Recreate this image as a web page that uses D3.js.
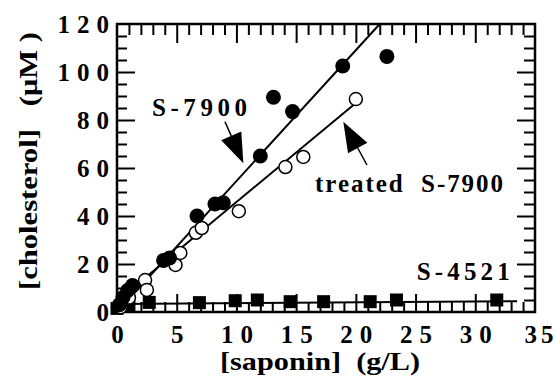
<!DOCTYPE html>
<html><head><meta charset="utf-8">
<script src="https://cdn.jsdelivr.net/npm/d3@7"></script>
<style>body{margin:0;background:#fff}</style></head>
<body>
<svg id="c" width="556" height="378"></svg>
<script>
// S-7900 (filled circles)
const s7900X = [0.2, 0.5, 0.9, 1.3, 3.9, 4.4, 6.7, 8.2, 8.9, 12.0, 13.1, 14.7, 18.9, 22.6];
const s7900Y = [3, 6, 9, 11, 21.5, 22.5, 40, 45, 45.5, 65, 89.5, 83.5, 102.5, 106.5];
// treated S-7900 (open circles)
const treatedX = [0.3, 1.0, 2.35, 2.5, 4.9, 5.3, 6.6, 7.1, 10.2, 14.1, 15.6, 20.0];
const treatedY = [2, 6, 13.3, 9.2, 19.6, 24.6, 33, 35, 42, 60.4, 64.6, 88.7];
// S-4521 (filled squares)
const s4521X = [0, 1.0, 2.7, 6.9, 9.9, 11.75, 14.5, 17.3, 21.2, 23.4, 31.8];
const s4521Y = [1.5, 3, 4, 3.9, 4.7, 5, 4.3, 4.3, 4.3, 5, 5];
// fit lines [x0,y0,x1,y1]
const fitS7900 = [0, 0, 22.0, 120];
const fitTreated = [0, 4.5, 19.9, 86.7];
const fitS4521 = [0, 3.3, 33.5, 4.5];
// ticks
const xMajor = [0, 5, 10, 15, 20, 25, 30, 35];
const yMajor = [0, 20, 40, 60, 80, 100, 120];
// annotations: [tipX, tipY, tailX, tailY] in data units
const arrowS7900 = [10.58, 61.96, 9.04, 79.3];
const arrowTreated = [18.95, 79.3, 20.93, 61.25];
const labels = [
  {text: "S-7900", x: 2.93, y: 81.7, w: 95},
  {text: "treated  S-7900", x: 16.58, y: 50, w: 188},
  {text: "S-4521", x: 25.1, y: 13.3, w: 93}
];

const svg = d3.select("#c");
const L = 117, R = 535, T = 24, B = 312;
const x = d3.scaleLinear().domain([0, 35]).range([L, R]);
const y = d3.scaleLinear().domain([0, 120]).range([B, T]);
const font = "Liberation Serif";

const xMinor = d3.range(0, 36).filter(v => v % 5 !== 0);
const yMinor = d3.range(0, 121, 5).filter(v => v % 20 !== 0);

function styleAxis(g) {
  g.select(".domain").remove();
  g.attr("font-family", null).attr("font-size", null);
  g.selectAll(".tick line").attr("stroke", "#000").attr("stroke-width", 2);
}
// bottom
svg.append("g").attr("transform", `translate(0,${B})`)
  .call(d3.axisBottom(x).tickValues(xMinor).tickSize(-10).tickFormat("")).call(styleAxis);
const gxb = svg.append("g").attr("transform", `translate(0,${B})`)
  .call(d3.axisBottom(x).tickValues(xMajor).tickSize(-18).tickPadding(13).tickFormat(d3.format("d"))).call(styleAxis);
gxb.selectAll("text").style("font-family", font).style("font-weight", "bold").style("font-size", "25px")
  .style("letter-spacing", "7px").attr("dx", 3.5).attr("fill", "#000");
gxb.selectAll(".tick").filter(d => d === 35).select("text")
  .style("letter-spacing", "4px").attr("text-anchor", "end").attr("dx", 22);
gxb.selectAll(".tick").filter(d => d === 0 || d === 35).select("line").remove();
// top
svg.append("g").attr("transform", `translate(0,${T})`)
  .call(d3.axisTop(x).tickValues(xMinor).tickSize(-11).tickFormat("")).call(styleAxis);
svg.append("g").attr("transform", `translate(0,${T})`)
  .call(d3.axisTop(x).tickValues(xMajor.slice(1, -1)).tickSize(-19).tickFormat("")).call(styleAxis);
// left
svg.append("g").attr("transform", `translate(${L},0)`)
  .call(d3.axisLeft(y).tickValues(yMinor).tickSize(-10).tickFormat("")).call(styleAxis);
const gyl = svg.append("g").attr("transform", `translate(${L},0)`)
  .call(d3.axisLeft(y).tickValues(yMajor).tickSize(-18).tickPadding(1).tickFormat(d3.format("d"))).call(styleAxis);
gyl.selectAll("text").style("font-family", font).style("font-weight", "bold").style("font-size", "25px")
  .style("letter-spacing", "7px").attr("fill", "#000");
gyl.selectAll(".tick").filter(d => d === 0 || d === 120).select("line").remove();
// right
svg.append("g").attr("transform", `translate(${R},0)`)
  .call(d3.axisRight(y).tickValues(yMinor).tickSize(-11).tickFormat("")).call(styleAxis);
svg.append("g").attr("transform", `translate(${R},0)`)
  .call(d3.axisRight(y).tickValues(yMajor.slice(1, -1)).tickSize(-18).tickFormat("")).call(styleAxis);

// frame
svg.append("rect").attr("x", L).attr("y", T).attr("width", R - L).attr("height", B - T)
  .attr("fill", "none").attr("stroke", "#000").attr("stroke-width", 2.5);

// fit lines
[fitS7900, fitTreated, fitS4521].forEach(f => {
  svg.append("line").attr("x1", x(f[0])).attr("y1", y(f[1])).attr("x2", x(f[2])).attr("y2", y(f[3]))
    .attr("stroke", "#000").attr("stroke-width", 2);
});

// markers
svg.append("g").selectAll("rect").data(d3.zip(s4521X, s4521Y)).join("rect")
  .attr("x", d => x(d[0]) - 6.5).attr("y", d => y(d[1]) - 6.5).attr("width", 13).attr("height", 13)
  .attr("fill", "#000");
svg.append("g").selectAll("circle").data(d3.zip(treatedX, treatedY)).join("circle")
  .attr("cx", d => x(d[0])).attr("cy", d => y(d[1])).attr("r", 6.5)
  .attr("fill", "#fff").attr("stroke", "#000").attr("stroke-width", 1.5);
svg.append("g").selectAll("circle").data(d3.zip(s7900X, s7900Y)).join("circle")
  .attr("cx", d => x(d[0])).attr("cy", d => y(d[1])).attr("r", 7.5).attr("fill", "#000");

// arrows
function arrow(a) {
  const tx = x(a[0]), ty = y(a[1]), ex = x(a[2]), ey = y(a[3]);
  const dx = ex - tx, dy = ey - ty, len = Math.hypot(dx, dy);
  const ux = dx / len, uy = dy / len, hl = 30, hw = 11;
  const bx = tx + ux * hl, by = ty + uy * hl;
  svg.append("line").attr("x1", bx).attr("y1", by).attr("x2", ex).attr("y2", ey)
    .attr("stroke", "#000").attr("stroke-width", 1.5);
  svg.append("path").attr("d", `M${tx},${ty}L${bx - uy * hw},${by + ux * hw}L${bx + uy * hw},${by - ux * hw}Z`)
    .attr("fill", "#000");
}
arrow(arrowS7900);
arrow(arrowTreated);

// labels
labels.forEach(l => {
  svg.append("text").attr("x", x(l.x)).attr("y", y(l.y)).text(l.text)
    .style("font-family", font).style("font-weight", "bold").style("font-size", "25px")
    .style("white-space", "pre")
    .attr("textLength", l.w).attr("lengthAdjust", "spacing").attr("fill", "#000");
});

// axis titles
svg.append("text").attr("x", 220).attr("y", 370).text("[saponin]  (g/L)")
  .style("font-family", font).style("font-weight", "bold").style("font-size", "26px")
  .style("white-space", "pre")
  .attr("textLength", 200).attr("lengthAdjust", "spacingAndGlyphs").attr("fill", "#000");
svg.append("text").attr("transform", "translate(37,290) rotate(-90)").text("[cholesterol]   (μM )")
  .style("font-family", font).style("font-weight", "bold").style("font-size", "26px")
  .style("white-space", "pre")
  .attr("textLength", 258).attr("lengthAdjust", "spacingAndGlyphs").attr("fill", "#000");
</script>
</body></html>
